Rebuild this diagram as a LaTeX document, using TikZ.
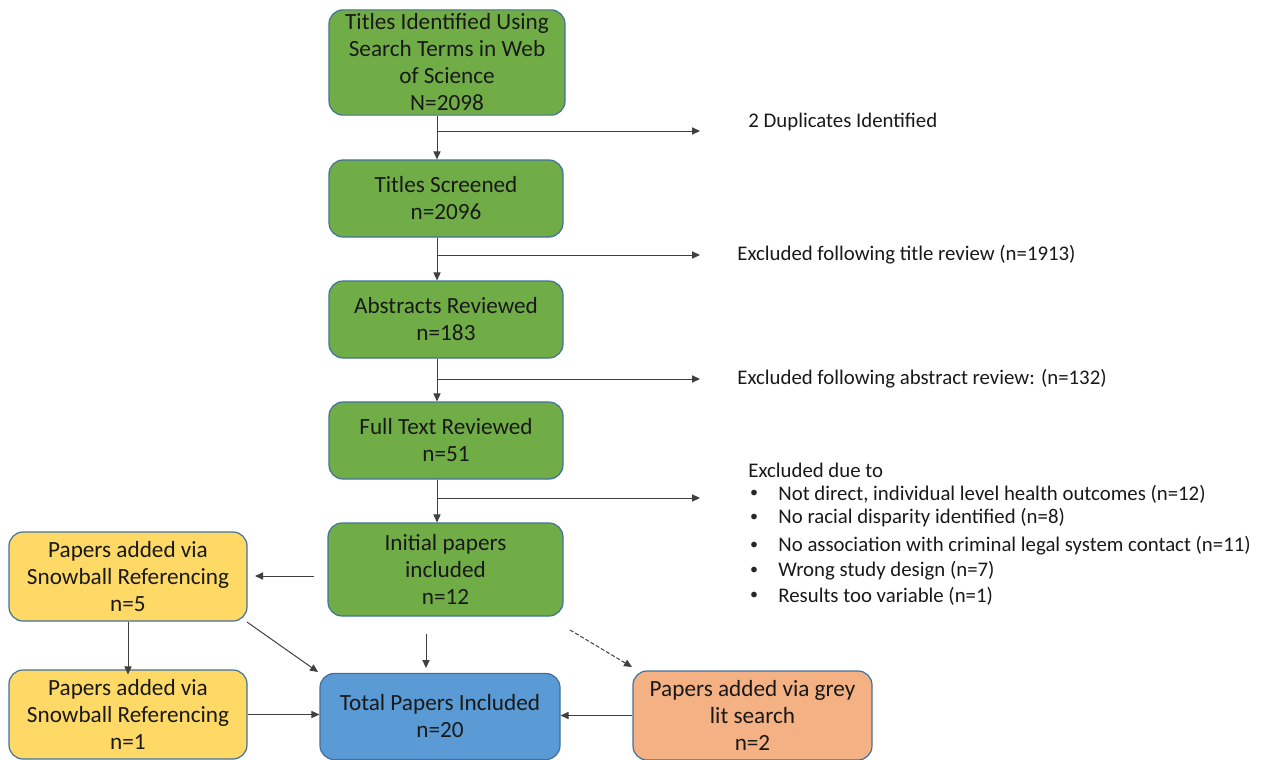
\documentclass[tikz,border=0pt]{standalone}
\usepackage{fontspec}
\setmainfont{Carlito}
\usetikzlibrary{arrows.meta}
\definecolor{gfill}{HTML}{70AD47}
\definecolor{yfill}{HTML}{FFD966}
\definecolor{bfill}{HTML}{5B9BD5}
\definecolor{ofill}{HTML}{F4B183}
\definecolor{edge}{HTML}{41719C}
\definecolor{lin}{HTML}{404040}
\tikzset{
  box/.style={draw=edge, line width=0.6pt, rounded corners=7pt, align=center, inner sep=2pt,
    font=\fontsize{11.6}{13.5}\selectfont, text=black!90},
  gbox/.style={box, fill=gfill},
  ybox/.style={box, fill=yfill},
  bbox/.style={box, fill=bfill},
  obox/.style={box, fill=ofill},
  conn/.style={draw=lin, line width=0.5pt, -{Triangle[length=4pt,width=3.6pt]}},
  side/.style={anchor=west, inner sep=0pt, font=\fontsize{10.4}{12}\selectfont, text=black!90},
  bul/.style={anchor=center, inner sep=0pt, font=\fontsize{8}{8}\selectfont, text=black!85},
}
\begin{document}
\begin{tikzpicture}[x=0.5pt,y=-0.5pt]
\useasboundingbox (0,0) rectangle (1264,760);
% main column
\node[gbox, minimum width=118pt, minimum height=52.5pt] (b1) at (447,62.5)
  {Titles Identified Using\\Search Terms in Web\\of Science\\N=2098};
\node[gbox, minimum width=117pt, minimum height=38.5pt] (b2) at (446,198.5) {Titles Screened\\n=2096};
\node[gbox, minimum width=117pt, minimum height=38.5pt] (b3) at (446,319.5) {Abstracts Reviewed\\n=183};
\node[gbox, minimum width=117pt, minimum height=38.5pt] (b4) at (446,440.5) {Full Text Reviewed\\n=51};
\node[gbox, minimum width=117.5pt, minimum height=46.5pt] (b5) at (445.5,569.5) {Initial papers\\included\\n=12};
\node[ybox, minimum width=119pt, minimum height=44.5pt] (ya) at (128,576.5) {Papers added via\\Snowball Referencing\\n=5};
\node[ybox, minimum width=119pt, minimum height=44.5pt] (yb) at (128,714.5) {Papers added via\\Snowball Referencing\\n=1};
\node[bbox, minimum width=120pt, minimum height=43pt] (tot) at (440,716.5) {Total Papers Included\\n=20};
\node[obox, minimum width=119.5pt, minimum height=44.5pt] (gr) at (752.5,715.5) {Papers added via grey\\lit search\\n=2};
% side texts
\node[side] (t1) at (748,122) {2 Duplicates Identified};
\node[side] (t2) at (737,255) {Excluded following title review (n=1913)};
\node[side] (t3) at (737,379) {Excluded following abstract review: (n=132)};
\node[side] (t4) at (748,470) {Excluded due to};
\foreach \yy/\tt [count=\i] in {494/{Not direct, individual level health outcomes (n=12)},
  518/{No racial disparity identified (n=8)},
  546/{No association with criminal legal system contact (n=11)},
  571/{Wrong study design (n=7)},
  596/{Results too variable (n=1)}}{
  \node[bul] (bul\i) at (754,\yy) {\textbullet};
  \node[side] (it\i) at (778,\yy) {\tt};
}
% branch coordinates
\coordinate (j1) at (437,131); \coordinate (e1) at (700,131);
\coordinate (j2) at (437,255); \coordinate (e2) at (700,255);
\coordinate (j3) at (437,379); \coordinate (e3) at (700,379);
\coordinate (j4) at (437,498); \coordinate (e4) at (700,498);
% vertical flow
\draw[conn] (b1.south -| j1) -- (b2.north -| j1);
\draw[conn] (b2.south -| j2) -- (b3.north -| j2);
\draw[conn] (b3.south -| j3) -- (b4.north -| j3);
\draw[conn] (b4.south -| j4) -- (b5.north -| j4);
\draw[conn] (j1) -- (e1);
\draw[conn] (j2) -- (e2);
\draw[conn] (j3) -- (e3);
\draw[conn] (j4) -- (e4);
% lower connectors
\coordinate (s5l) at (314,576); \coordinate (s5le) at (255,576);
\draw[conn] (s5l) -- (s5le);
\draw[conn] (ya.south) -- ([yshift=-2.5pt]yb.north);
\coordinate (yas) at (247,622); \coordinate (tote) at (318,672);
\draw[conn] (yas) -- (tote);
\coordinate (b5s) at (426,634); \coordinate (b5e) at (426,668);
\draw[conn] (b5s) -- (b5e);
\coordinate (ds) at (570,630); \coordinate (de) at (632,667);
\draw[conn, dashed, dash pattern=on 2pt off 1pt] (ds) -- (de);
\draw[conn] (yb.east) -- (tot.west |- yb.east);
\draw[conn] (gr.west) -- (tot.east |- gr.west);
\end{tikzpicture}
\end{document}
